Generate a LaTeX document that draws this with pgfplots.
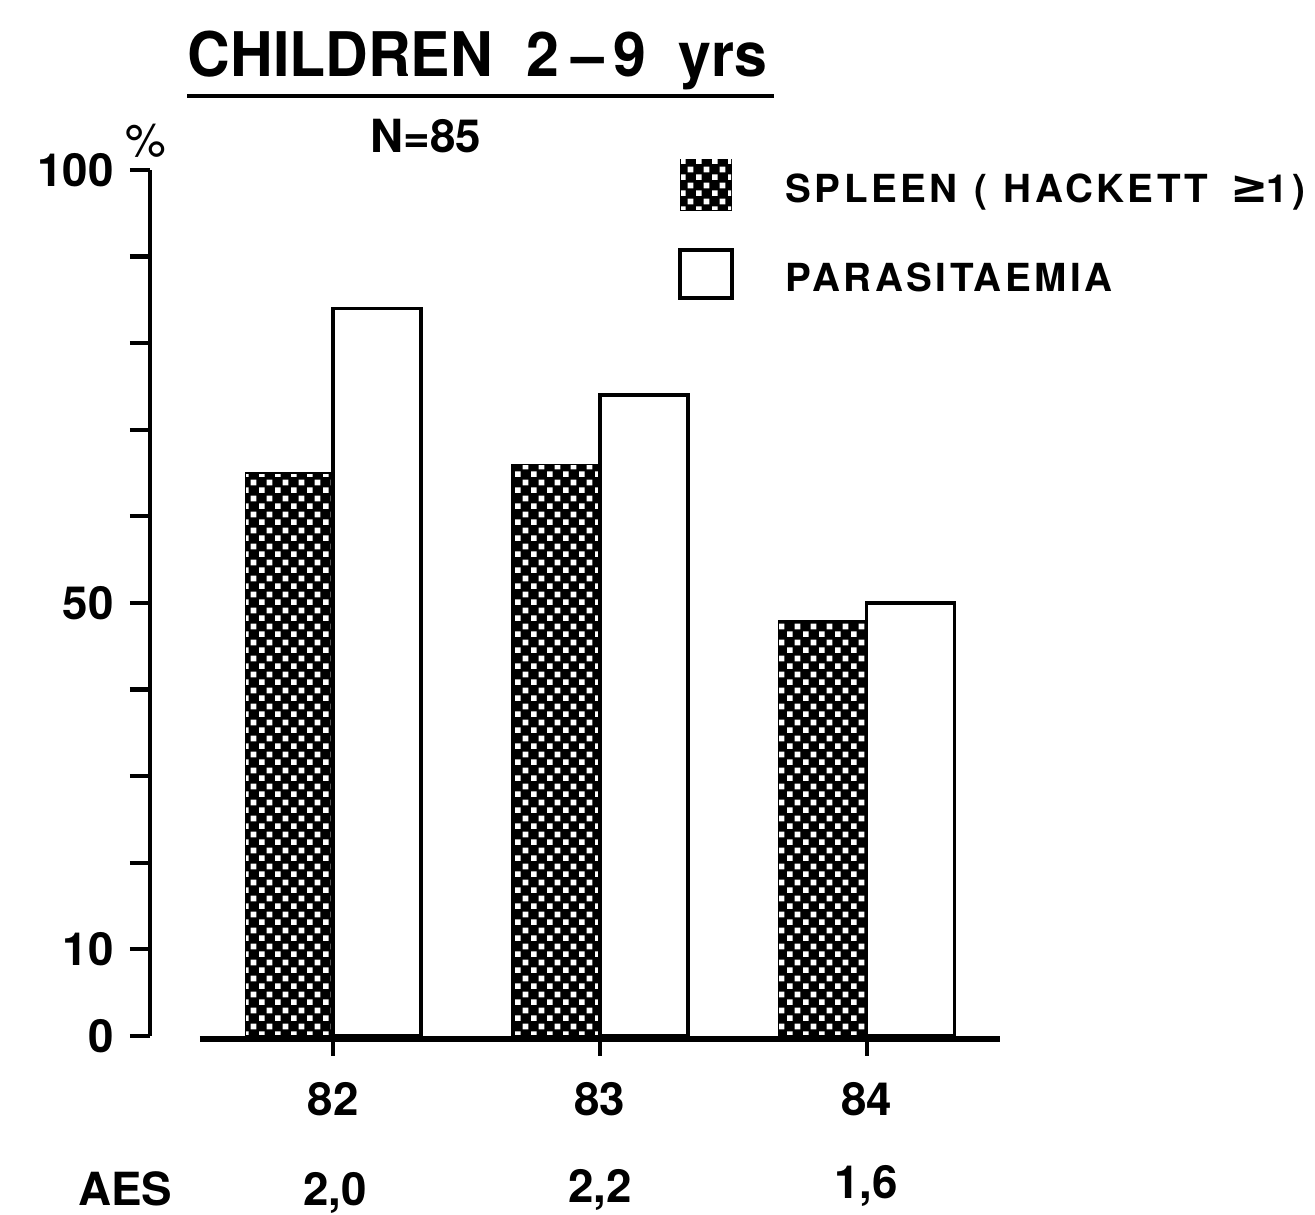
\documentclass[border=0pt]{standalone}
\usepackage{fontspec}
\setmainfont{TeX Gyre Heros}
\newfontfamily\dejavu{DejaVu Sans}
\usepackage{pgfplots}
\pgfplotsset{compat=1.18}
\usetikzlibrary{patterns}
\pgfdeclarepatternformonly{checks}{\pgfqpoint{0pt}{0pt}}{\pgfqpoint{4.6pt}{4.6pt}}{\pgfqpoint{4.6pt}{4.6pt}}{%
  \pgfpathrectangle{\pgfqpoint{0.3pt}{0.3pt}}{\pgfqpoint{1.7pt}{1.7pt}}%
  \pgfpathrectangle{\pgfqpoint{2.6pt}{2.6pt}}{\pgfqpoint{1.7pt}{1.7pt}}%
  \pgfusepath{fill}}
\begin{document}
\begin{tikzpicture}
\useasboundingbox (0,0) rectangle (131.5mm,121.5mm);
\begin{axis}[
  at={(15.0mm,17.9mm)}, anchor=south west,
  scale only axis, width=85mm, height=86.6mm,
  xmin=-0.687, xmax=2.5, ymin=0, ymax=100,
  clip=false,
  ybar=0pt, bar width=8.8mm,
  axis lines*=left,
  x axis line style={draw=none},
  y axis line style={line width=1.4pt},
  xtick={0,1,2}, xticklabels={82,83,84},
  ytick={0,10,...,100}, yticklabels={0,10,,,,50,,,,,100},
  tick align=outside, major tick length=2mm,
  tick style={black, line width=1.2pt},
  ticklabel style={font=\fontsize{13}{15}\selectfont\bfseries},
  xticklabel style={yshift=-1.4mm},
  yticklabel style={xshift=-0.4mm},
]
\addplot[fill=black, draw=black, line width=0.4pt,
  postaction={pattern=checks, pattern color=white}]
  coordinates {(0,65) (1,66) (2,48)};
\addplot[fill=white, draw=black, line width=1pt]
  coordinates {(0,84) (1,74) (2,50)};
\draw[line width=1.7pt] ([yshift=-0.3mm]axis cs:-0.5,0) -- ([yshift=-0.3mm]axis cs:2.5,0);
\end{axis}
\begin{scope}[yshift=121.5mm, x=0.1mm, y=-0.1mm]
  \begin{scope}[every node/.style={anchor=base west, inner sep=0pt, font=\fontsize{17.5}{20}\selectfont\bfseries\addfontfeature{FakeStretch=0.96}}]
    \node at (187,77) {CHILDREN};
    \node at (526,77) {2};
    \node at (571,77) {--};
    \node at (613,77) {9};
    \node at (678,77) {yrs};
  \end{scope}
  \draw[line width=1.4pt] (187,96) -- (774,96);
  \node[anchor=base west, inner sep=0pt, font=\fontsize{13}{15}\selectfont\bfseries] at (370,153) {N=85};
  \node[anchor=base west, inner sep=0pt, font=\fontsize{13}{14}\selectfont] at (125,157) {\%};
  \draw[fill=black, postaction={pattern=checks, pattern color=white}] (681,160) rectangle (731,210);
  \draw[line width=1pt] (680,250) rectangle (732,298);
  \begin{scope}[every node/.style={anchor=base west, inner sep=0pt, font=\fontsize{11}{13}\selectfont\bfseries\addfontfeature{LetterSpace=9}}]
    \node at (785,203) {SPLEEN};
    \node at (974,203) {(};
    \node at (1003,203) {HACKETT};
    \node at (1230,203) {\dejavu\bfseries\fontsize{13}{15}\selectfont ≥};
    \node at (1266,203) {1};
    \node at (1292,203) {)};
    \node at (785,292) {PARASITAEMIA};
  \end{scope}
  \begin{scope}[every node/.style={anchor=base, inner sep=0pt, font=\fontsize{13}{15}\selectfont\bfseries}]
    \node at (125,1205) {AES};
    \node at (335,1205) {2,0};
    \node at (600,1202) {2,2};
    \node at (866,1198) {1,6};
  \end{scope}
\end{scope}
\end{tikzpicture}
\end{document}
